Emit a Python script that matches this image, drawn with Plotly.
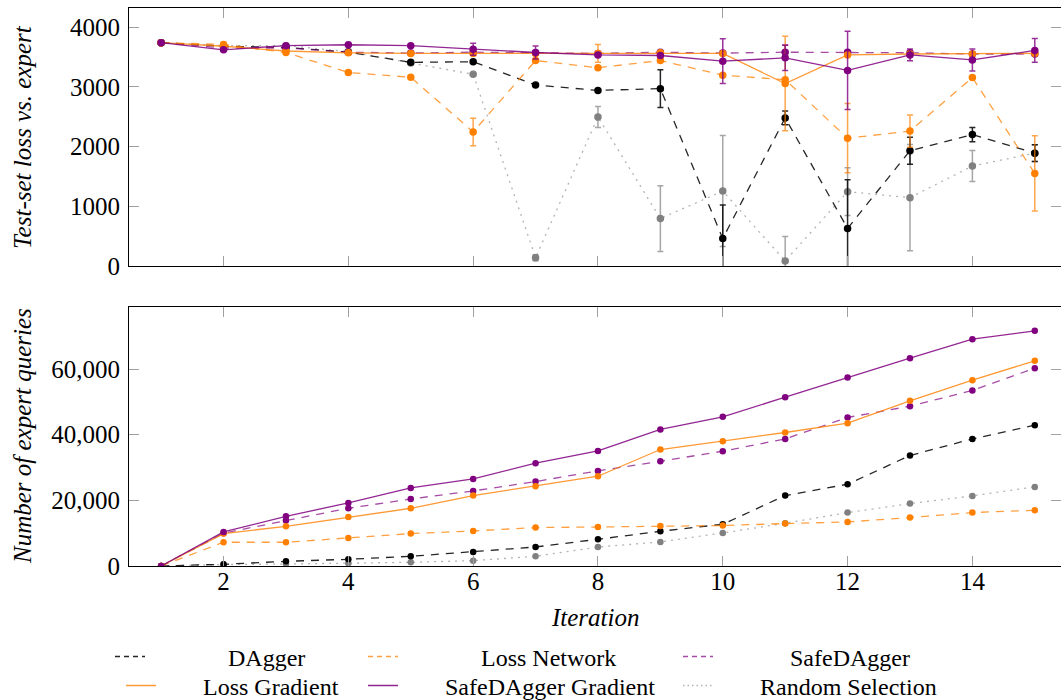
import plotly.graph_objects as go

# ---------------- data ----------------
iterations = list(range(1, 16))

series_names = ["DAgger", "Loss Network", "SafeDAgger",
                "Loss Gradient", "SafeDAgger Gradient", "Random Selection"]

# Test-set loss vs. expert (top panel)
loss_dagger = [3740, 3680, 3660, 3580, 3410, 3420, 3030, 2940, 2970, 460, 2480, 630, 1930, 2200, 1890]
loss_lossnet = [3740, 3710, 3575, 3240, 3160, 2245, 3440, 3320, 3440, 3195, 3120, 2140, 2260, 3155, 1550]
loss_safedagger = [3740, 3650, 3650, 3580, 3565, 3580, 3570, 3560, 3580, 3565, 3580, 3580, 3570, 3550, 3550]
loss_lossgrad = [3740, 3680, 3600, 3570, 3560, 3560, 3560, 3560, 3570, 3560, 3055, 3535, 3550, 3550, 3560]
loss_safegrad = [3740, 3620, 3690, 3705, 3690, 3630, 3575, 3535, 3525, 3430, 3485, 3275, 3535, 3450, 3610]
loss_random = [3740, 3690, 3690, 3590, 3400, 3210, 140, 2495, 795, 1255, 85, 1245, 1145, 1675, 1890]

# Error bars (top panel)
err_dagger = [0, 0, 0, 0, 0, 0, 0, 0, 315, 560, 115, 815, 225, 120, 140]
err_lossnet = [0, 0, 0, 0, 0, 230, 0, 0, 0, 0, 0, 580, 270, 0, 630]
err_safedagger = [0, 0, 0, 0, 0, 0, 0, 0, 0, 0, 120, 0, 0, 0, 0]
err_lossgrad = [0, 0, 0, 0, 0, 0, 0, 150, 0, 0, 790, 0, 0, 0, 0]
err_safegrad = [0, 0, 0, 0, 0, 100, 110, 0, 0, 375, 212, 655, 100, 185, 200]
err_random = [0, 0, 0, 0, 0, 0, 50, 175, 550, 930, 410, 400, 890, 260, 140]

# Number of expert queries (bottom panel)
q_dagger = [0, 520, 1430, 2040, 2960, 4270, 5790, 8140, 10580, 12710, 21460, 24910, 33660, 38720, 42900]
q_lossnet = [0, 7230, 7230, 8540, 9880, 10670, 11710, 11890, 12200, 12320, 12930, 13420, 14760, 16280, 16980]
q_safedagger = [0, 10000, 13840, 17590, 20430, 22870, 25730, 28970, 31920, 34970, 38720, 45250, 48690, 53480, 60280]
q_lossgrad = [0, 9880, 12100, 14940, 17590, 21460, 24300, 27350, 35490, 38020, 40670, 43510, 50310, 56620, 62500]
q_safegrad = [0, 10370, 15150, 19220, 23790, 26540, 31310, 35070, 41590, 45440, 51440, 57440, 63330, 69120, 71660]
q_random = [0, 430, 610, 820, 1130, 1630, 2960, 5790, 7320, 10060, 13020, 16280, 19020, 21350, 24090]

top_ticks = [0, 1000, 2000, 3000, 4000]
bottom_ticks = [0, 20000, 40000, 60000]
x_ticks = [2, 4, 6, 8, 10, 12, 14]

# ---------------- styles ----------------
FONT = "Liberation Serif"
styles = {
    "DAgger": dict(mc="#000000", lc="rgba(0,0,0,0.85)", ec="rgba(0,0,0,0.85)", dash="8px,7px",
                   ldash="5px,4px", lg="legend"),
    "Loss Network": dict(mc="#FF8000", lc="rgba(255,128,0,0.75)", ec="rgba(255,128,0,0.7)", dash="8px,7px",
                         ldash="5px,4px", lg="legend2"),
    "SafeDAgger": dict(mc="#800080", lc="rgba(128,0,128,0.7)", ec="rgba(128,0,128,0.7)", dash="8px,7px",
                       ldash="5px,4px", lg="legend3"),
    "Loss Gradient": dict(mc="#FF8000", lc="rgba(255,128,0,0.8)", ec="rgba(255,128,0,0.7)", dash="solid",
                          ldash="solid", lg="legend4"),
    "SafeDAgger Gradient": dict(mc="#800080", lc="rgba(128,0,128,0.85)", ec="rgba(128,0,128,0.8)", dash="solid",
                                ldash="solid", lg="legend5"),
    "Random Selection": dict(mc="#808080", lc="rgba(128,128,128,0.6)", ec="rgba(128,128,128,0.7)", dash="2px,5px",
                             ldash="1.5px,3px", lg="legend6"),
}

top_data = {
    "DAgger": (loss_dagger, err_dagger),
    "Loss Network": (loss_lossnet, err_lossnet),
    "SafeDAgger": (loss_safedagger, err_safedagger),
    "Loss Gradient": (loss_lossgrad, err_lossgrad),
    "SafeDAgger Gradient": (loss_safegrad, err_safegrad),
    "Random Selection": (loss_random, err_random),
}
bottom_data = {
    "DAgger": q_dagger,
    "Loss Network": q_lossnet,
    "SafeDAgger": q_safedagger,
    "Loss Gradient": q_lossgrad,
    "SafeDAgger Gradient": q_safegrad,
    "Random Selection": q_random,
}

fig = go.Figure()

draw_order = ["Random Selection", "DAgger", "Loss Network", "SafeDAgger", "Loss Gradient", "SafeDAgger Gradient"]

for name in draw_order:
    s = styles[name]
    yv, ev = top_data[name]
    fig.add_trace(go.Scatter(
        x=iterations, y=yv, mode="lines+markers", name=name,
        line=dict(color=s["lc"], width=1.3, dash=s["dash"]),
        marker=dict(color=s["mc"], size=7.5),
        error_y=dict(type="data", array=ev, visible=True, color=s["ec"], thickness=1.5, width=3),
        xaxis="x", yaxis="y", showlegend=False,
    ))

for name in draw_order:
    s = styles[name]
    fig.add_trace(go.Scatter(
        x=iterations, y=bottom_data[name], mode="lines+markers", name=name,
        line=dict(color=s["lc"], width=1.3, dash=s["dash"]),
        marker=dict(color=s["mc"], size=6.5),
        xaxis="x2", yaxis="y2", showlegend=False,
    ))

# legend entries (line samples only, as in the reference)
legend_layout = {
    # name: (legend id, sample start px, text centre y px, number of padding spaces)
    "DAgger": ("legend", 115, 657, 13),
    "Loss Network": ("legend2", 368, 657, 13),
    "SafeDAgger": ("legend3", 683, 657, 12),
    "Loss Gradient": ("legend4", 126, 686, 7),
    "SafeDAgger Gradient": ("legend5", 368, 686, 7),
    "Random Selection": ("legend6", 683, 686, 7),
}
for name in series_names:
    s = styles[name]
    lg, px, py, pad = legend_layout[name]
    fig.add_trace(go.Scatter(
        x=[None], y=[None], mode="lines", name="\u00a0" * pad + name,
        line=dict(color=s["lc"], width=1.5, dash=s["ldash"]),
        xaxis="x2", yaxis="y2", showlegend=True, legend=lg, hoverinfo="skip",
    ))
    fig.update_layout(**{lg: dict(
        xref="container", yref="container",
        x=(px - 5) / 1061, y=1 - py / 700, xanchor="left", yanchor="middle",
        orientation="h", itemwidth=30, bgcolor="rgba(0,0,0,0)",
        font=dict(family=FONT, size=24, color="black"),
    )})

axis_common = dict(
    showline=True, linecolor="black", linewidth=1.2, mirror="ticks",
    ticks="inside", ticklen=10, tickcolor="#a0a0a0", tickwidth=1.2,
    showgrid=False, zeroline=False, automargin=False,
    tickfont=dict(family=FONT, size=25, color="black"),
)

fig.update_layout(
    width=1061, height=700,
    margin=dict(l=129, r=0, t=8, b=134, autoexpand=False),
    plot_bgcolor="white", paper_bgcolor="white",
    font=dict(family=FONT, size=22, color="black"),
    xaxis=dict(axis_common, range=[0.485, 15.42], tickvals=x_ticks, showticklabels=False,
               anchor="y", domain=[0, 1]),
    yaxis=dict(axis_common, range=[0, 4320], tickvals=top_ticks, anchor="x",
               domain=[0.5376, 1.0], ticklabelstandoff=3),
    xaxis2=dict(axis_common, range=[0.485, 15.42], tickvals=x_ticks, anchor="y2",
                domain=[0, 1], ticklabelstandoff=-7),
    yaxis2=dict(axis_common, range=[0, 79000], tickvals=bottom_ticks, tickformat=",",
                anchor="x2", domain=[0, 0.4647], ticklabelstandoff=3),
)

# axis titles
title_font = dict(family=FONT, size=25, color="black")
fig.add_annotation(text="<i>Test-set loss vs. expert</i>", xref="paper", yref="paper",
                   x=(22 - 129) / 932, y=(566 - 137) / 558, textangle=-90, showarrow=False,
                   xanchor="center", yanchor="middle", font=title_font)
fig.add_annotation(text="<i>Number of expert queries</i>", xref="paper", yref="paper",
                   x=(22 - 129) / 932, y=(566 - 436) / 558, textangle=-90, showarrow=False,
                   xanchor="center", yanchor="middle", font=title_font)
fig.add_annotation(text="<i>Iteration</i>", xref="paper", yref="paper",
                   x=(595 - 129) / 932, y=(566 - 617) / 558, showarrow=False,
                   xanchor="center", yanchor="middle", font=title_font)

fig.write_html("out.html", config={"displayModeBar": False},
               post_script="document.body.style.margin='0';document.body.style.overflow='hidden';")
